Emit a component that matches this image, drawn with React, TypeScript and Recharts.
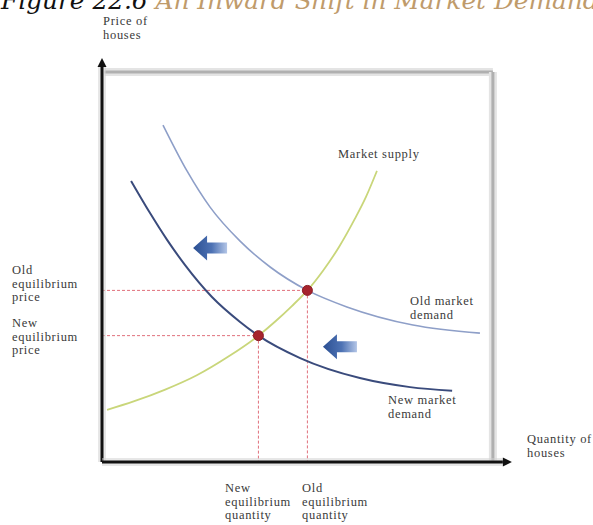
import { LineChart, Line, XAxis, YAxis, ReferenceLine, ReferenceDot } from "recharts";

// axis ticks (both axes carry 12 unlabelled cross ticks)
const xTicks = [1, 2, 3, 4, 5, 6, 7, 8, 9, 10, 11, 12];
const yTicks = [1, 2, 3, 4, 5, 6, 7, 8, 9, 10, 11, 12];

// curves as [quantity, price]
const supply = [
  [0.16, 1.67], [1.0, 1.94], [2.0, 2.32], [3.0, 2.78], [4.0, 3.38], [4.95, 4.05], [5.5, 4.52],
  [6.0, 4.99], [6.5, 5.5], [7.0, 6.14], [7.5, 6.89], [8.0, 7.79], [8.35, 8.49], [8.7, 9.33],
];
const oldDemand = [
  [1.93, 10.8], [2.69, 9.33], [3.42, 8.17], [4.37, 7.08], [5.32, 6.25], [6.5, 5.5],
  [7.75, 4.97], [9.84, 4.39], [11.96, 4.13],
];
const newDemand = [
  [0.92, 9.01], [1.52, 7.98], [2.06, 7.12], [2.63, 6.31], [3.48, 5.29], [4.37, 4.49], [4.95, 4.05],
  [6.27, 3.33], [8.16, 2.69], [9.75, 2.4], [11.08, 2.28],
];
const oldEq = { x: 6.5, y: 5.5 };
const newEq = { x: 4.95, y: 4.05 };
const shiftArrows = [{ x: 3.42, y: 6.86 }, { x: 7.53, y: 3.69 }];

const titleNum = "Figure 22.6 ";
const titleText = "An Inward Shift in Market Demand";

const labels = [
  { x: 103, y: 25, lines: ["Price of", "houses"] },
  { x: 338, y: 158, lines: ["Market supply"] },
  { x: 410, y: 305, lines: ["Old market", "demand"] },
  { x: 388, y: 404, lines: ["New market", "demand"] },
  { x: 527, y: 443, lines: ["Quantity of", "houses"] },
  { x: 12, y: 274, lines: ["Old", "equilibrium", "price"] },
  { x: 12, y: 327, lines: ["New", "equilibrium", "price"] },
  { x: 225, y: 492, lines: ["New", "equilibrium", "quantity"] },
  { x: 302, y: 492, lines: ["Old", "equilibrium", "quantity"] },
];

const toPts = (a: number[][]) => a.map(([x, y]) => ({ x, y }));

const AxisArrow = (p: any) => {
  const { x1, y1, x2, y2 } = p;
  const dx = x2 - x1, dy = y2 - y1;
  const len = Math.hypot(dx, dy);
  const ux = dx / len, uy = dy / len;
  const head = 9, half = 4.5;
  const bx = x2 - ux * head, by = y2 - uy * head;
  const pts = `${x2},${y2} ${bx - uy * half},${by + ux * half} ${bx + uy * half},${by - ux * half}`;
  return (
    <g>
      <line x1={x1} y1={y1} x2={bx} y2={by} stroke="#cfcfcf" strokeWidth={8} strokeOpacity={0.5} />
      <line x1={x1} y1={y1} x2={bx} y2={by} stroke="#111" strokeWidth={3} />
      <polygon points={pts} fill="#111" />
    </g>
  );
};

const BoxEdge = (p: any) => (
  <g>
    <line x1={p.x1} y1={p.y1} x2={p.x2} y2={p.y2} stroke="#e4e4e4" strokeWidth={8} />
    <line x1={p.x1} y1={p.y1} x2={p.x2} y2={p.y2} stroke="#b0b0b0" strokeWidth={3} />
  </g>
);

const XTick = (p: any) => (
  <line x1={p.x} x2={p.x} y1={p.y - 5} y2={p.y + 5} stroke="#111" strokeWidth={1.6} />
);
const YTick = (p: any) => (
  <line x1={p.x - 6} x2={p.x + 6} y1={p.y} y2={p.y} stroke="#111" strokeWidth={1.6} />
);

const ShiftArrow = (p: any) => {
  const { cx, cy } = p;
  const pts = [
    [cx - 17, cy], [cx - 3, cy - 12.5], [cx - 3, cy - 5.5], [cx + 17, cy - 5.5],
    [cx + 17, cy + 5.5], [cx - 3, cy + 5.5], [cx - 3, cy + 12.5],
  ].map((q) => q.join(",")).join(" ");
  return (
    <g>
      <defs>
        <linearGradient id="shiftGrad" x1="0" y1="0" x2="1" y2="0">
          <stop offset="0%" stopColor="#2b4f92" />
          <stop offset="55%" stopColor="#4d72b4" />
          <stop offset="100%" stopColor="#b3c5e6" />
        </linearGradient>
      </defs>
      <polygon points={pts} fill="url(#shiftGrad)" />
    </g>
  );
};

const dash = { stroke: "#e0707c", strokeWidth: 1, strokeDasharray: "3 2" };

export default function App() {
  return (
    <div style={{ position: "absolute", left: 0, top: 0, width: 593, height: 525, overflow: "hidden", background: "#fff" }}>
      <LineChart width={593} height={525} margin={{ top: 56.4, right: 80.2, bottom: 63, left: 102 }}>
        <XAxis type="number" dataKey="x" domain={[0, 13]} ticks={xTicks} interval={0} height={0}
          axisLine={false} tickLine={false} tickSize={0} tickMargin={0} tick={XTick} allowDataOverflow />
        <YAxis type="number" dataKey="y" domain={[0, 13]} ticks={yTicks} interval={0} width={0}
          axisLine={false} tickLine={false} tickSize={0} tickMargin={0} tick={YTick} allowDataOverflow />

        <ReferenceLine segment={[{ x: 0.08, y: 12.5 }, { x: 12.37, y: 12.5 }]} ifOverflow="visible" shape={BoxEdge} />
        <ReferenceLine segment={[{ x: 12.37, y: 12.5 }, { x: 12.37, y: 0.05 }]} ifOverflow="visible" shape={BoxEdge} />

        <ReferenceLine segment={[{ x: 0, y: oldEq.y }, oldEq]} ifOverflow="visible" {...dash} />
        <ReferenceLine segment={[oldEq, { x: oldEq.x, y: 0 }]} ifOverflow="visible" {...dash} />
        <ReferenceLine segment={[{ x: 0, y: newEq.y }, newEq]} ifOverflow="visible" {...dash} />
        <ReferenceLine segment={[newEq, { x: newEq.x, y: 0 }]} ifOverflow="visible" {...dash} />

        <Line data={toPts(supply)} dataKey="y" type="monotone" stroke="#c9d67a" strokeWidth={1.8}
          dot={false} activeDot={false} isAnimationActive={false} />
        <Line data={toPts(oldDemand)} dataKey="y" type="monotone" stroke="#8e9fc8" strokeWidth={1.6}
          dot={false} activeDot={false} isAnimationActive={false} />
        <Line data={toPts(newDemand)} dataKey="y" type="monotone" stroke="#3a4b7c" strokeWidth={2}
          dot={false} activeDot={false} isAnimationActive={false} />

        <ReferenceLine segment={[{ x: 0, y: 0 }, { x: 0, y: 12.95 }]} ifOverflow="visible" shape={AxisArrow} />
        <ReferenceLine segment={[{ x: 0, y: 0 }, { x: 12.97, y: 0 }]} ifOverflow="visible" shape={AxisArrow} />

        <ReferenceDot x={oldEq.x} y={oldEq.y} r={5} fill="#a6242d" stroke="#8c1d25" ifOverflow="visible" />
        <ReferenceDot x={newEq.x} y={newEq.y} r={5} fill="#a6242d" stroke="#8c1d25" ifOverflow="visible" />
        {shiftArrows.map((a, i) => (
          <ReferenceDot key={i} x={a.x} y={a.y} r={1} ifOverflow="visible" shape={ShiftArrow} />
        ))}
      </LineChart>

      <svg width={593} height={525} style={{ position: "absolute", left: 0, top: 0, pointerEvents: "none" }}>
        <text x={1} y={9} fontFamily="'DejaVu Serif', serif" fontStyle="italic" fontSize={24.8}>
          <tspan fill="#111">{titleNum}</tspan>
          <tspan fill="#bf9b6b">{titleText}</tspan>
        </text>
        {labels.map((l, i) => (
          <text key={i} x={l.x} y={l.y} fontFamily="'Liberation Serif', serif" fontSize={12.5}
            letterSpacing={0.7} fill="#3a3a3a">
            {l.lines.map((s, j) => (
              <tspan key={j} x={l.x} y={l.y + j * 13.5}>{s}</tspan>
            ))}
          </text>
        ))}
      </svg>
    </div>
  );
}
